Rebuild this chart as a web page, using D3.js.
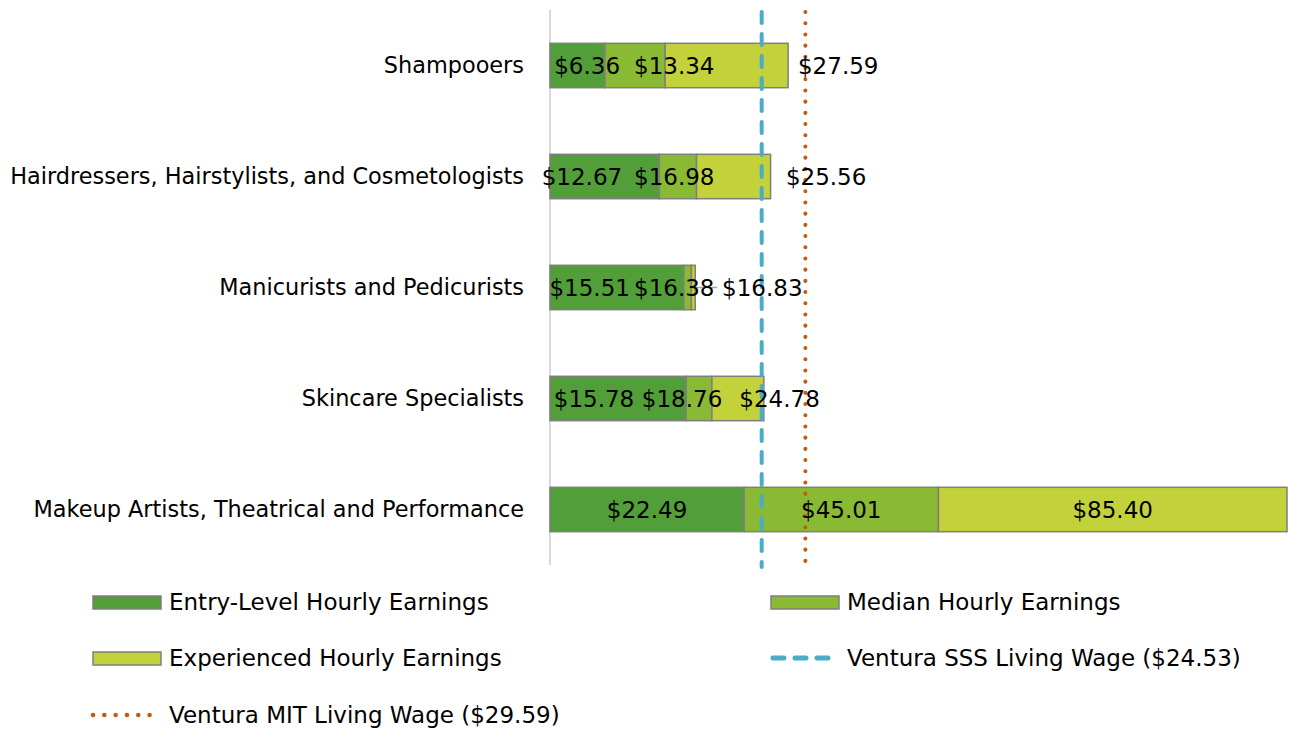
<!DOCTYPE html>
<html>
<head>
<meta charset="utf-8">
<script src="https://cdn.jsdelivr.net/npm/d3@7"></script>
<style>
	body { margin: 0; background: #fff; }
	svg text { font-family: "DejaVu Sans", sans-serif; fill: #000; }
</style>
</head>
<body>
<svg id="chart" width="1289" height="729"></svg>
<script>
const categories = [
	"Shampooers",
	"Hairdressers, Hairstylists, and Cosmetologists",
	"Manicurists and Pedicurists",
	"Skincare Specialists",
	"Makeup Artists, Theatrical and Performance"
];

// hourly earnings (cumulative values, as shown in the labels)
const entryWage = [6.36, 12.67, 15.51, 15.78, 22.49];
const medianWage = [13.34, 16.98, 16.38, 18.76, 45.01];
const experiencedWage = [27.59, 25.56, 16.83, 24.78, 85.40];

// where the data labels sit, in dollars along the axis (hand placed in the original)
const entryLabelAt = [4.3, 3.7, 4.6, 5.1, 11.25];
const medianLabelAt = [14.4, 14.4, 14.4, 15.3, 33.75];
const experiencedLabelAt = [33.4, 32.0, 24.6, 26.6, 65.2];

const sssWage = 24.53, mitWage = 29.59;

const seriesNames = ["Entry-Level Hourly Earnings", "Median Hourly Earnings", "Experienced Hourly Earnings"];
const colors = ["#529e38", "#8ab933", "#c3d13a"];
const sssColor = "#4bacc6", mitColor = "#c55a11";

const svg = d3.select("#chart");
const fontSize = 23, catFontSize = 22.4;

const x = d3.scaleLinear()
	.domain([0, 85.40])
	.range([550, 1287]);

const y = d3.scaleBand()
	.domain(categories)
	.range([10, 565])
	.paddingInner(0.6)
	.paddingOuter(0.3);

// vertical axis line
svg.append("line")
	.attr("x1", x(0)).attr("x2", x(0))
	.attr("y1", 10).attr("y2", 565)
	.attr("stroke", "#d9d9d9")
	.attr("stroke-width", 2);

// category labels
svg.append("g")
	.selectAll("text")
	.data(categories)
	.join("text")
	.attr("x", x(0) - 26)
	.attr("y", d => y(d) + y.bandwidth() / 2)
	.attr("dy", "0.35em")
	.attr("text-anchor", "end")
	.style("font-size", catFontSize + "px")
	.text(d => d);

// stacked segments
const series = [entryWage, medianWage, experiencedWage];
const segments = [];
categories.forEach((c, i) => {
	let start = 0;
	series.forEach((s, k) => {
		segments.push({cat: c, k: k, x0: start, x1: s[i]});
		start = s[i];
	});
});

svg.append("g")
	.selectAll("rect")
	.data(segments)
	.join("rect")
	.attr("x", d => x(d.x0))
	.attr("y", d => y(d.cat))
	.attr("width", d => x(d.x1) - x(d.x0))
	.attr("height", y.bandwidth())
	.attr("fill", d => colors[d.k])
	.attr("stroke", "#7f7f7f")
	.attr("stroke-width", 1.5);

// living wage lines
svg.append("line")
	.attr("x1", x(sssWage)).attr("x2", x(sssWage))
	.attr("y1", 12).attr("y2", 567)
	.attr("stroke", sssColor)
	.attr("stroke-width", 4)
	.attr("stroke-linecap", "round")
	.attr("stroke-dasharray", "11 11");

svg.append("line")
	.attr("x1", x(mitWage)).attr("x2", x(mitWage))
	.attr("y1", 12).attr("y2", 567)
	.attr("stroke", mitColor)
	.attr("stroke-width", 4)
	.attr("stroke-linecap", "round")
	.attr("stroke-dasharray", "0.1 11.1");

// leader line for the crowded Manicurists label
const mi = categories.indexOf("Manicurists and Pedicurists");
svg.append("line")
	.attr("x1", x(experiencedWage[mi])).attr("x2", x(experiencedWage[mi]) + 22)
	.attr("y1", y(categories[mi]) + y.bandwidth() / 2)
	.attr("y2", y(categories[mi]) + y.bandwidth() / 2)
	.attr("stroke", "#a6a6a6")
	.attr("stroke-width", 1.5);

// data labels
const labels = [];
categories.forEach((c, i) => {
	labels.push({cat: c, at: entryLabelAt[i], v: entryWage[i]});
	labels.push({cat: c, at: medianLabelAt[i], v: medianWage[i]});
	labels.push({cat: c, at: experiencedLabelAt[i], v: experiencedWage[i]});
});

svg.append("g")
	.selectAll("text")
	.data(labels)
	.join("text")
	.attr("x", d => x(d.at))
	.attr("y", d => y(d.cat) + y.bandwidth() / 2)
	.attr("dy", "0.35em")
	.attr("text-anchor", "middle")
	.style("font-size", fontSize + "px")
	.text(d => "$" + d3.format(".2f")(d.v));

// legend
const legendItems = [
	{name: seriesNames[0], type: "rect", color: colors[0], x: 93, y: 602},
	{name: seriesNames[1], type: "rect", color: colors[1], x: 771, y: 602},
	{name: seriesNames[2], type: "rect", color: colors[2], x: 93, y: 658},
	{name: "Ventura SSS Living Wage ($24.53)", type: "dash", color: sssColor, x: 771, y: 658},
	{name: "Ventura MIT Living Wage ($29.59)", type: "dot", color: mitColor, x: 93, y: 715}
];

const legend = svg.append("g")
	.selectAll("g")
	.data(legendItems)
	.join("g")
	.attr("transform", d => `translate(${d.x},${d.y})`);

legend.filter(d => d.type == "rect")
	.append("rect")
	.attr("x", 0).attr("y", -6)
	.attr("width", 68).attr("height", 13)
	.attr("fill", d => d.color)
	.attr("stroke", "#7f7f7f")
	.attr("stroke-width", 1.5);

legend.filter(d => d.type == "dash")
	.append("line")
	.attr("x1", 2).attr("x2", 66)
	.attr("stroke", d => d.color)
	.attr("stroke-width", 5)
	.attr("stroke-linecap", "round")
	.attr("stroke-dasharray", "11 11");

legend.filter(d => d.type == "dot")
	.append("line")
	.attr("x1", 0).attr("x2", 66)
	.attr("stroke", d => d.color)
	.attr("stroke-width", 4.5)
	.attr("stroke-linecap", "round")
	.attr("stroke-dasharray", "0.1 11.2");

legend.append("text")
	.attr("x", 76)
	.attr("dy", "0.35em")
	.style("font-size", fontSize + "px")
	.text(d => d.name);
</script>
</body>
</html>
